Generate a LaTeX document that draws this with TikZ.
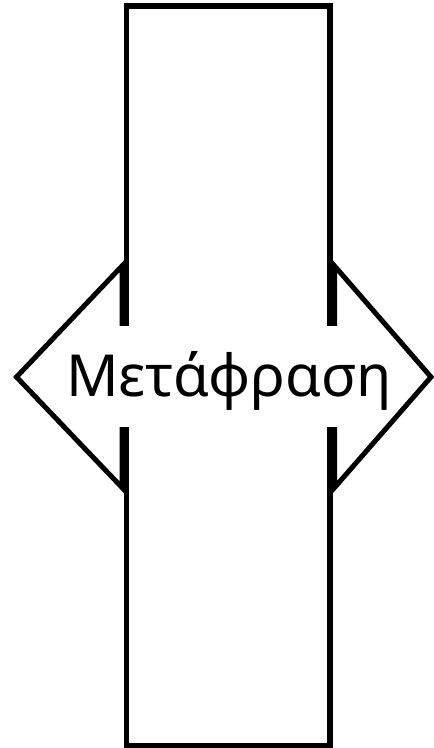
\documentclass[tikz,border=0pt]{standalone}
\usepackage{fontspec}
\setmainfont{Noto Sans}
\tikzset{
  colbox/.style={draw=black, line width=5.4pt, minimum width=203.5pt, minimum height=739.5pt, inner sep=0pt},
  arrowhead/.style={draw=black, fill=white, line width=5pt, line join=miter},
  coverbox/.style={fill=white, draw=none, minimum width=224pt, minimum height=101pt, inner sep=0pt},
  label/.style={font=\fontsize{58}{64}\selectfont, inner sep=0pt, anchor=base}
}
\begin{document}
\begin{tikzpicture}[x=1pt,y=-1pt]
\useasboundingbox (0,0) rectangle (434,748);
\node[colbox] (col) at (228.25,375.75) {};
\coordinate (ltip) at (16.5,377);
\coordinate (ltop) at (122.0,266);
\coordinate (lbot) at (122.0,487.5);
\coordinate (rtip) at (431,377);
\coordinate (rtop) at (334.6,266);
\coordinate (rbot) at (334.6,487.5);
\draw[arrowhead] (ltip) -- (ltop) -- (lbot) -- cycle;
\draw[arrowhead] (rtip) -- (rtop) -- (rbot) -- cycle;
\node[coverbox] (cover) at (229,376.5) {};
\node[label] (txt) at (229,396) {Μετάφραση};
\end{tikzpicture}
\end{document}
